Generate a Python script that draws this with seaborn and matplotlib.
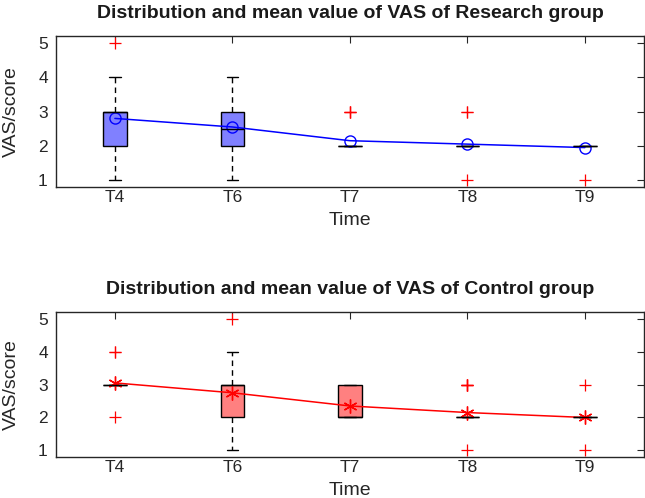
import numpy as np
import pandas as pd
import matplotlib
matplotlib.use('Agg')
import matplotlib.pyplot as plt
import seaborn as sns

# VAS scores 1..5, counts per time point (20 subjects per group)
TIMES = ['T4', 'T6', 'T7', 'T8', 'T9']
SCORES = [1, 2, 3, 4, 5]
RESEARCH_COUNTS = [
    [1, 6, 10, 2, 1],   # T4
    [1, 9, 8, 2, 0],    # T6
    [0, 17, 3, 0, 0],   # T7
    [1, 17, 2, 0, 0],   # T8
    [1, 19, 0, 0, 0],   # T9
]
CONTROL_COUNTS = [
    [0, 1, 17, 2, 0],   # T4
    [1, 7, 9, 2, 1],    # T6
    [0, 13, 7, 0, 0],   # T7
    [1, 15, 4, 0, 0],   # T8
    [1, 18, 1, 0, 0],   # T9
]


def to_long(counts):
    rows = []
    for t, cnt in zip(TIMES, counts):
        for s, n in zip(SCORES, cnt):
            rows += [(t, s)] * n
    return pd.DataFrame(rows, columns=['time', 'vas'])


sns.set_style('white')
plt.rcParams['font.family'] = ['Liberation Sans', 'DejaVu Sans']
plt.rcParams['text.color'] = '#1a1a1a'
plt.rcParams['axes.labelcolor'] = '#262626'
plt.rcParams['axes.edgecolor'] = '#262626'
plt.rcParams['xtick.color'] = '#262626'
plt.rcParams['ytick.color'] = '#262626'

fig = plt.figure(figsize=(6.45, 4.98), dpi=100)
ax1 = fig.add_axes([0.087, 0.6245, 0.911, 0.303])
ax2 = fig.add_axes([0.087, 0.0823, 0.911, 0.291])

panels = [
    (ax1, RESEARCH_COUNTS, '#8080ff', 'blue', 'o', 8, 'Research'),
    (ax2, CONTROL_COUNTS, '#ff8080', 'red', (6, 2, 0), 10, 'Control'),
]

for ax, counts, face, lc, mk, ms, name in panels:
    df = to_long(counts)
    sns.boxplot(data=df, x='time', y='vas', order=TIMES, width=0.2,
                color=face, saturation=1, linecolor='black', linewidth=1,
                whis=1.5, ax=ax,
                whiskerprops=dict(linestyle=(0, (4, 3))),
                medianprops=dict(color='black'),
                flierprops=dict(marker='+', markersize=9,
                                markeredgecolor='red', markeredgewidth=0.9))
    sns.pointplot(data=df, x='time', y='vas', order=TIMES, estimator='mean',
                  errorbar=None, color=lc, markers=mk, linestyles='-',
                  markerfacecolor='none' if mk == 'o' else lc,
                  markeredgecolor=lc, markersize=ms, markeredgewidth=1,
                  linewidth=1.1, ax=ax)
    ax.set_xlim(-0.5, 4.5)
    ax.set_ylim(0.8, 5.2)
    ax.set_yticks([1, 2, 3, 4, 5])
    ax.set_xticks(range(len(TIMES)))
    ax.set_xticklabels(TIMES)
    ax.tick_params(direction='in', length=5, width=0.8, labelsize=12.5,
                   top=True, right=True)
    ax.tick_params(axis='x', pad=2.5)
    ax.tick_params(axis='y', pad=6)
    for sp in ax.spines.values():
        sp.set_linewidth(1)
        sp.set_visible(True)
    ax.set_xlabel('Time', fontsize=14, labelpad=5)
    ax.set_ylabel('VAS/score', fontsize=14, labelpad=13)
    ax.set_title(f'Distribution and mean value of VAS of {name} group',
                 fontsize=14, fontweight='bold', pad=13)

fig.savefig('out.png', dpi=100)
